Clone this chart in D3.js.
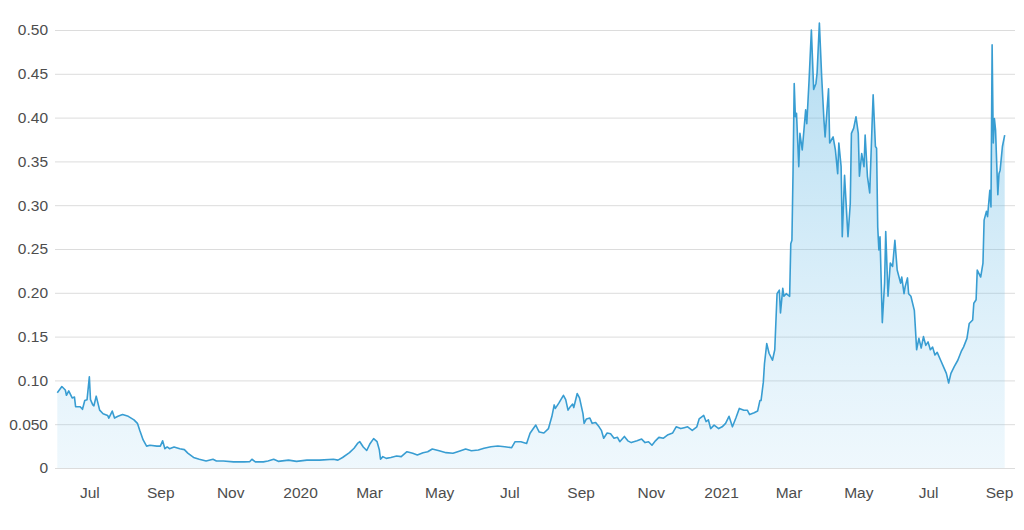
<!DOCTYPE html>
<html lang="en">
<head>
<meta charset="utf-8">
<script src="https://d3js.org/d3.v7.min.js"></script>
<style>
body { margin: 0; background: #fff; }
svg { display: block; font-family: Inter, "Noto Sans", sans-serif; }
.grid line { stroke: #dcdcdc; stroke-width: 1; }
.tick text { fill: #4d4d4d; font-size: 15.5px; }
</style>
</head>
<body>
<svg width="1024" height="530"></svg>
<script>
// price readings, [date, usd]
var price2019 = [
 ["2019-06-03",0.086],["2019-06-07",0.093],["2019-06-10",0.089],["2019-06-11",0.083],["2019-06-13",0.088],
 ["2019-06-16",0.080],["2019-06-18",0.081],["2019-06-19",0.070],["2019-06-23",0.070],["2019-06-25",0.067],
 ["2019-06-27",0.077],["2019-06-29",0.078],["2019-07-01",0.104],["2019-07-02",0.078],["2019-07-04",0.072],
 ["2019-07-05",0.071],["2019-07-07",0.082],["2019-07-10",0.066],["2019-07-13",0.062],["2019-07-17",0.060],
 ["2019-07-18",0.057],["2019-07-21",0.065],["2019-07-23",0.057],["2019-07-26",0.059],["2019-07-30",0.061],
 ["2019-08-04",0.059],["2019-08-09",0.055],["2019-08-12",0.051],["2019-08-14",0.043],["2019-08-17",0.032],
 ["2019-08-20",0.025],["2019-08-23",0.026],["2019-08-29",0.025],["2019-09-01",0.025],["2019-09-03",0.031],
 ["2019-09-05",0.022],["2019-09-07",0.024],["2019-09-09",0.022],["2019-09-13",0.024],["2019-09-18",0.022],
 ["2019-09-22",0.021],["2019-09-25",0.017],["2019-09-30",0.012],["2019-10-05",0.010],["2019-10-11",0.008],
 ["2019-10-17",0.010],["2019-10-20",0.008],["2019-10-26",0.008],["2019-11-04",0.007],["2019-11-13",0.007],
 ["2019-11-18",0.0072],["2019-11-20",0.010],["2019-11-23",0.007],["2019-11-30",0.007],["2019-12-04",0.008],
 ["2019-12-09",0.010],["2019-12-13",0.0076],["2019-12-22",0.009],["2019-12-29",0.0076]
];
var price2020 = [
 ["2020-01-07",0.009],["2020-01-10",0.009],["2020-01-18",0.009],["2020-01-30",0.010],["2020-02-03",0.009],
 ["2020-02-07",0.012],["2020-02-13",0.0175],["2020-02-17",0.0225],["2020-02-20",0.028],["2020-02-22",0.030],
 ["2020-02-25",0.024],["2020-02-28",0.020],["2020-03-02",0.028],["2020-03-05",0.0335],["2020-03-08",0.030],
 ["2020-03-10",0.0205],["2020-03-11",0.010],["2020-03-13",0.013],["2020-03-16",0.011],["2020-03-20",0.012],
 ["2020-03-25",0.0137],["2020-03-29",0.013],["2020-04-03",0.0186],["2020-04-08",0.0168],["2020-04-12",0.0148],
 ["2020-04-17",0.0175],["2020-04-21",0.0186],["2020-04-25",0.0217],["2020-05-01",0.0197],["2020-05-07",0.0175],
 ["2020-05-13",0.0168],["2020-05-19",0.0194],["2020-05-24",0.0217],["2020-05-29",0.0197],["2020-06-04",0.0205],
 ["2020-06-09",0.0225],["2020-06-15",0.0243],["2020-06-21",0.0251],["2020-06-27",0.0243],["2020-07-03",0.0232],
 ["2020-07-06",0.030],["2020-07-11",0.030],["2020-07-16",0.028],["2020-07-19",0.0396],["2020-07-22",0.0453],
 ["2020-07-24",0.049],["2020-07-26",0.0434],["2020-07-27",0.041],["2020-07-31",0.040],["2020-08-04",0.045],
 ["2020-08-07",0.059],["2020-08-09",0.072],["2020-08-10",0.068],["2020-08-13",0.074],["2020-08-17",0.083],
 ["2020-08-19",0.078],["2020-08-21",0.066],["2020-08-23",0.070],["2020-08-25",0.073],["2020-08-26",0.069],
 ["2020-08-29",0.085],["2020-08-31",0.080],["2020-09-03",0.062],["2020-09-04",0.051],["2020-09-06",0.056],
 ["2020-09-09",0.057],["2020-09-11",0.051],["2020-09-14",0.052],["2020-09-17",0.047],["2020-09-19",0.043],
 ["2020-09-21",0.034],["2020-09-24",0.040],["2020-09-27",0.039],["2020-09-30",0.034],["2020-10-03",0.035],
 ["2020-10-05",0.030],["2020-10-09",0.036],["2020-10-12",0.031],["2020-10-15",0.029],["2020-10-20",0.031],
 ["2020-10-24",0.033],["2020-10-27",0.029],["2020-10-30",0.030],["2020-11-02",0.026],["2020-11-05",0.031],
 ["2020-11-08",0.035],["2020-11-12",0.034],["2020-11-16",0.038],["2020-11-20",0.040],["2020-11-23",0.047],
 ["2020-11-27",0.045],["2020-11-30",0.046],["2020-12-03",0.047],["2020-12-07",0.043],["2020-12-11",0.047],
 ["2020-12-13",0.056],["2020-12-17",0.060],["2020-12-19",0.053],["2020-12-21",0.055],["2020-12-23",0.045],
 ["2020-12-26",0.049],["2020-12-30",0.045]
];
var price2021 = [
 ["2021-01-02",0.047],["2021-01-05",0.051],["2021-01-08",0.059],["2021-01-11",0.047],["2021-01-14",0.057],
 ["2021-01-17",0.068],["2021-01-21",0.066],["2021-01-24",0.066],["2021-01-26",0.061],["2021-01-30",0.063],
 ["2021-02-02",0.065],["2021-02-04",0.077],["2021-02-05",0.077],["2021-02-07",0.098],["2021-02-08",0.119],
 ["2021-02-10",0.142],["2021-02-12",0.131],["2021-02-15",0.123],["2021-02-17",0.135],["2021-02-19",0.199],
 ["2021-02-21",0.203],["2021-02-22",0.177],["2021-02-24",0.205],["2021-02-25",0.196],["2021-02-27",0.199],
 ["2021-03-02",0.196],["2021-03-03",0.256],["2021-03-04",0.260],["2021-03-05",0.340],["2021-03-06",0.439],
 ["2021-03-07",0.401],["2021-03-08",0.405],["2021-03-10",0.344],["2021-03-11",0.382],["2021-03-13",0.363],
 ["2021-03-14",0.378],["2021-03-16",0.409],["2021-03-17",0.393],["2021-03-19",0.443],["2021-03-21",0.500],
 ["2021-03-23",0.432],["2021-03-25",0.439],["2021-03-26",0.451],["2021-03-28",0.508],["2021-03-30",0.447],
 ["2021-04-01",0.397],["2021-04-02",0.378],["2021-04-05",0.433],["2021-04-06",0.371],["2021-04-09",0.378],
 ["2021-04-11",0.363],["2021-04-13",0.336],["2021-04-14",0.371],["2021-04-16",0.344],["2021-04-17",0.264],
 ["2021-04-19",0.334],["2021-04-21",0.287],["2021-04-22",0.264],["2021-04-24",0.302],["2021-04-25",0.382],
 ["2021-04-27",0.388],["2021-04-29",0.401],["2021-05-01",0.382],["2021-05-02",0.333],["2021-05-04",0.359],
 ["2021-05-06",0.344],["2021-05-07",0.380],["2021-05-09",0.333],["2021-05-11",0.314],["2021-05-13",0.390],
 ["2021-05-14",0.426],["2021-05-16",0.367],["2021-05-17",0.365],["2021-05-18",0.275],["2021-05-19",0.249],
 ["2021-05-20",0.264],["2021-05-22",0.166],["2021-05-24",0.211],["2021-05-25",0.270],["2021-05-27",0.196],
 ["2021-05-29",0.234],["2021-05-31",0.230],["2021-06-02",0.260],["2021-06-04",0.226],["2021-06-07",0.211],
 ["2021-06-08",0.218],["2021-06-10",0.199],["2021-06-11",0.207],["2021-06-13",0.217],["2021-06-14",0.199],
 ["2021-06-16",0.196],["2021-06-19",0.180],["2021-06-20",0.158],["2021-06-21",0.135],["2021-06-23",0.148],
 ["2021-06-25",0.137],["2021-06-27",0.150],["2021-06-29",0.140],["2021-07-01",0.144],["2021-07-03",0.135],
 ["2021-07-05",0.138],["2021-07-07",0.129],["2021-07-09",0.132],["2021-07-12",0.123],["2021-07-15",0.114],
 ["2021-07-17",0.108],["2021-07-19",0.097],["2021-07-21",0.108],["2021-07-24",0.116],["2021-07-27",0.123],
 ["2021-07-30",0.133],["2021-08-01",0.138],["2021-08-04",0.148],["2021-08-06",0.165],["2021-08-09",0.169],
 ["2021-08-10",0.188],["2021-08-12",0.192],["2021-08-13",0.226],["2021-08-16",0.218],["2021-08-18",0.234],
 ["2021-08-19",0.283],["2021-08-21",0.293],["2021-08-22",0.287],["2021-08-24",0.317],["2021-08-25",0.298],
 ["2021-08-26",0.483],["2021-08-27",0.371],["2021-08-28",0.399],["2021-08-29",0.386],["2021-08-30",0.348],
 ["2021-08-31",0.312],["2021-09-01",0.336],["2021-09-02",0.340],["2021-09-04",0.367],["2021-09-06",0.380]
];
var yTicks = [0, 0.05, 0.10, 0.15, 0.20, 0.25, 0.30, 0.35, 0.40, 0.45, 0.50];
var yLabels = ["0", "0.050", "0.10", "0.15", "0.20", "0.25", "0.30", "0.35", "0.40", "0.45", "0.50"];

var parse = d3.timeParse("%Y-%m-%d");
var data = price2019.concat(price2020, price2021).map(function(d) {
  return { date: parse(d[0]), value: d[1] };
});

var svg = d3.select("svg");
var plotLeft = 55, plotRight = 1015, plotTop = 30, plotBottom = 468;

var x = d3.scaleTime()
  .domain([new Date(2019, 5, 1), new Date(2020, 0, 1), new Date(2021, 0, 1), new Date(2021, 8, 15)])
  .range([plotLeft, 300, 721, plotRight]);
var y = d3.scaleLinear().domain([0, 0.5]).range([plotBottom, plotTop]);

var defs = svg.append("defs");
var grad = defs.append("linearGradient")
  .attr("id", "fillGrad")
  .attr("gradientUnits", "userSpaceOnUse")
  .attr("x1", 0).attr("x2", 0)
  .attr("y1", y(0.5)).attr("y2", y(0));
grad.append("stop").attr("offset", "0%").attr("stop-color", "#55b1e0").attr("stop-opacity", 0.45);
grad.append("stop").attr("offset", "100%").attr("stop-color", "#8cccef").attr("stop-opacity", 0.14);

// y axis + gridlines
var yAxis = d3.axisLeft(y)
  .tickValues(yTicks)
  .tickFormat(function(d, i) { return yLabels[i]; })
  .tickSize(-(plotRight - plotLeft))
  .tickPadding(7);
svg.append("g")
  .attr("class", "grid")
  .attr("transform", "translate(" + plotLeft + ",0)")
  .call(yAxis)
  .call(function(g) { g.select(".domain").remove(); });

// x axis labels
var fmt = function(d) {
  return d.getMonth() === 0 ? d3.timeFormat("%Y")(d) : d3.timeFormat("%b")(d);
};
svg.append("g")
  .attr("transform", "translate(0," + plotBottom + ")")
  .call(d3.axisBottom(x).ticks(d3.timeMonth.every(2)).tickFormat(fmt).tickSize(0).tickPadding(19))
  .call(function(g) { g.select(".domain").remove(); });

var area = d3.area()
  .x(function(d) { return x(d.date); })
  .y0(y(0))
  .y1(function(d) { return y(d.value); });
var line = d3.line()
  .x(function(d) { return x(d.date); })
  .y(function(d) { return y(d.value); });

svg.append("path")
  .datum(data)
  .attr("d", area)
  .attr("fill", "url(#fillGrad)");

svg.append("path")
  .datum(data)
  .attr("d", line)
  .attr("fill", "none")
  .attr("stroke", "#389dd2")
  .attr("stroke-width", 1.6)
  .attr("stroke-linejoin", "round");
</script>
</body>
</html>
